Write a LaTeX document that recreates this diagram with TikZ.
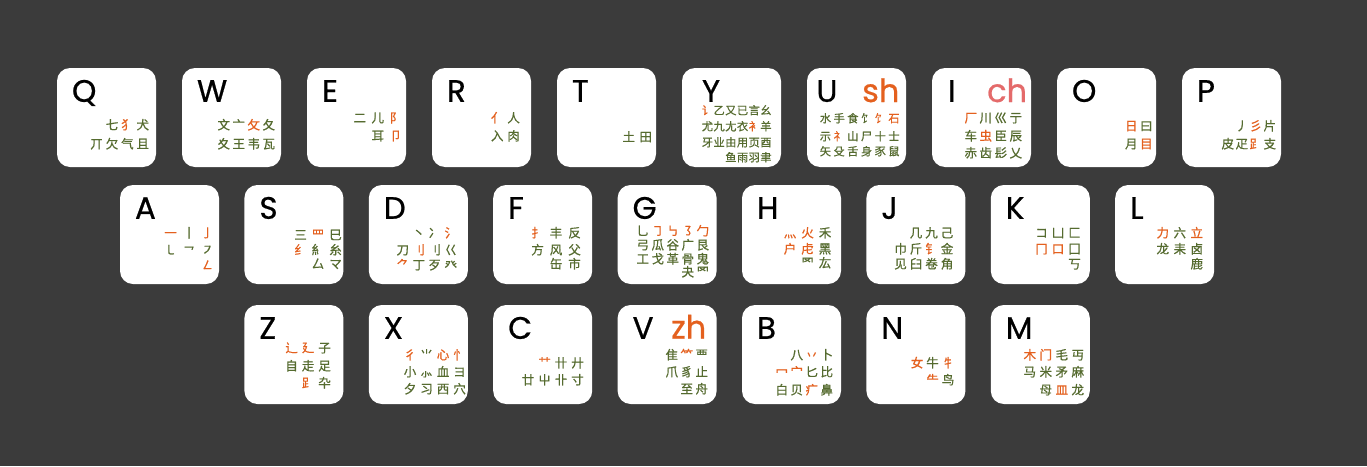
\documentclass[tikz,border=0pt]{standalone}
\usepackage{fontspec}
\usetikzlibrary{calc}
\newfontfamily\cjk[FakeBold=0.6]{Noto Sans CJK SC}
\newfontfamily\pop[FakeBold=0.7]{Poppins}
\definecolor{bg}{HTML}{3B3B3B}
\definecolor{kg}{HTML}{556B2F}
\definecolor{ko}{HTML}{E4601E}
\definecolor{kp}{HTML}{E46A6A}
\newlength\adv
\newcommand\Gc[1]{\makebox[\adv][c]{\color{kg}#1}}
\newcommand\Oc[1]{\makebox[\adv][c]{\color{ko}#1}}
\newcommand\Ec{\hspace*{\adv}}
\tikzset{
  key/.style={fill=white, draw=none, rounded corners=13pt, minimum width=99pt, minimum height=99pt, inner sep=0pt},
  letter/.style={anchor=base west, inner sep=0pt, font=\pop\fontsize{31}{31}\selectfont, text=black},
  pin/.style={anchor=base west, inner sep=0pt, font=\pop\fontsize{32}{32}\selectfont},
  cj/.style={anchor=east, inner sep=0pt, text height=10.5pt, text depth=1.5pt, font=\cjk\fontsize{12.5}{12.5}\selectfont},
  cjs/.style={cj, font=\cjk\fontsize{11.2}{11.2}\selectfont},
}
\begin{document}
\begin{tikzpicture}[x=1pt,y=-1pt]
\fill[bg] (0,0) rectangle (1367,466);
\useasboundingbox (0,0) rectangle (1367,466);
% ---------- keys ----------
\foreach \n/\cx in {Q/106.5,W/231.5,E/356.5,R/481.5,T/606.5,Y/731.5,U/856.5,I/981.5,O/1106.5,P/1231.5}
  \node[key] (k\n) at (\cx,117.5) {};
\foreach \n/\cx in {A/169.5,S/293.9,D/418.3,F/542.7,G/667.1,H/791.5,J/915.9,K/1040.3,L/1164.7}
  \node[key] (k\n) at (\cx,234.5) {};
\foreach \n/\cx in {Z/293.9,X/418.3,C/542.7,V/667.1,B/791.5,N/915.9,M/1040.3}
  \node[key] (k\n) at (\cx,354.5) {};
% letters
\foreach \n in {Q,W,E,R,T,O,P,A,S,D,F,G,H,J,K,L,Z,X,C,V,B,N,M}
  \node[letter] (l\n) at ($(k\n.north west)+(15,34)$) {\n};
\node[letter] (lY) at ($(kY.north west)+(20,34)$) {Y};
\node[letter] (lU) at ($(kU.north west)+(9.5,34)$) {U};
\node[letter] (lI) at ($(kI.north west)+(16,34)$) {I};
\node[pin, text=ko] (pU) at (862,102) {sh};
\node[pin, text=kp] (pI) at (987,102) {ch};
\node[pin, text=ko] (pV) at (671,338.5) {zh};
% Q
\setlength\adv{15.4pt}
\node[cj] (q1) at (150.7,125) {\Ec\Gc{七}\Oc{犭}\Gc{犬}};
\node[cj] (q2) at (150.7,144) {\Gc{丌}\Gc{欠}\Gc{气}\Gc{且}};
% W
\setlength\adv{15pt}
\node[cj] (w1) at (276.5,125) {\Gc{文}\Gc{亠}\Oc{攵}\Gc{夂}};
\node[cj] (w2) at (276.5,144) {\Gc{夊}\Gc{王}\Gc{韦}\Gc{瓦}};
% E
\setlength\adv{18pt}
\node[cj] (e1) at (405,118) {\Gc{二}\Gc{儿}\Oc{阝}};
\node[cj] (e2) at (405,136) {\Gc{耳}\Oc{卩}};
% R
\setlength\adv{16.4pt}
\node[cj] (r1) at (522,118) {\Oc{亻}\Gc{人}};
\node[cj] (r2) at (522,136) {\Gc{入}\Gc{肉}};
% T
\setlength\adv{17pt}
\node[cj] (t1) at (654.5,137) {\Gc{土}\Gc{田}};
% Y
\setlength\adv{11.7pt}
\node[cjs] (y1) at (772,110) {\Oc{讠}\Gc{乙}\Gc{又}\Gc{已}\Gc{言}\Gc{幺}};
\node[cjs] (y2) at (772,126) {\Gc{尤}\Gc{九}\Gc{尢}\Gc{衣}\Oc{衤}\Gc{羊}};
\node[cjs] (y3) at (772,142) {\Gc{牙}\Gc{业}\Gc{由}\Gc{用}\Gc{页}\Gc{酉}};
\node[cjs] (y4) at (772,157) {\Gc{鱼}\Gc{雨}\Gc{羽}\Gc{聿}};
% U
\setlength\adv{13.7pt}
\node[cjs] (u1) at (901,118) {\Gc{水}\Gc{手}\Gc{食}\Gc{饣}\Oc{饣}\Oc{石}};
\node[cjs] (u2) at (901,136) {\Gc{示}\Oc{礻}\Gc{山}\Gc{尸}\Gc{十}\Gc{士}};
\node[cjs] (u3) at (901,151) {\Gc{矢}\Gc{殳}\Gc{舌}\Gc{身}\Gc{豕}\Gc{鼠}};
% I
\setlength\adv{15pt}
\node[cj] (i1) at (1023.5,118) {\Oc{厂}\Gc{川}\Gc{巛}\Gc{亍}};
\node[cj] (i2) at (1023.5,136) {\Gc{车}\Oc{虫}\Gc{臣}\Gc{辰}};
\node[cj] (i3) at (1023.5,153) {\Gc{赤}\Gc{齿}\Gc{髟}\Gc{乂}};
% O
\setlength\adv{15pt}
\node[cj] (o1) at (1154,126) {\Oc{日}\Gc{曰}};
\node[cj] (o2) at (1154,144) {\Gc{月}\Oc{目}};
% P
\setlength\adv{14pt}
\node[cj] (p1) at (1277,126) {\Gc{丿}\Oc{彡}\Gc{片}};
\node[cj] (p2) at (1277,144) {\Gc{皮}\Gc{疋}\Oc{⻊}\Gc{支}};
% ---------- row 2 ----------
% A
\setlength\adv{18.5pt}
\node[cj] (a1) at (217,233) {\Oc{一}\Gc{丨}\Oc{亅}};
\node[cj] (a2) at (217,250) {\Gc{㇄}\Gc{㇖}\Gc{㇇}};
\node[cj] (a3) at (217,265) {\Oc{㇜}};
% S
\setlength\adv{17.5pt}
\node[cj] (s1) at (344.5,235) {\Gc{三}\Oc{罒}\Gc{巳}};
\node[cj] (s2) at (344.5,250) {\Oc{纟}\Gc{糹}\Gc{糸}};
\node[cj] (s3) at (344.5,264) {\Gc{厶}\Gc{マ}};
% D
\setlength\adv{16pt}
\node[cj] (d1) at (459,233) {\Gc{丶}\Gc{冫}\Oc{氵}};
\node[cj] (d2) at (459,250) {\Gc{刀}\Oc{刂}\Gc{刂}\Gc{巜}};
\node[cj] (d3) at (459,265) {\Oc{⺈}\Gc{丁}\Gc{歹}\Gc{癶}};
% F
\setlength\adv{18.5pt}
\node[cj] (f1) at (584,233) {\Oc{扌}\Gc{丰}\Gc{反}};
\node[cj] (f2) at (584,250) {\Gc{方}\Gc{风}\Gc{父}};
\node[cj] (f3) at (584,264) {\Gc{缶}\Gc{市}};
% G
\setlength\adv{15pt}
\node[cj] (g1) at (710.5,231) {\Gc{乚}\Oc{㇆}\Oc{㇉}\Oc{㇌}\Oc{勹}};
\node[cj] (g2) at (710.5,245) {\Gc{弓}\Gc{瓜}\Gc{谷}\Gc{广}\Gc{艮}};
\node[cj] (g3) at (710.5,259) {\Gc{工}\Gc{戈}\Gc{革}\Gc{骨}\Gc{鬼}};
\node[cj] (g4) at (710.5,272) {\Gc{夬}\Gc{罓}};
% H
\setlength\adv{17.5pt}
\node[cj] (h1) at (834,233) {\Oc{灬}\Oc{火}\Gc{禾}};
\node[cj] (h2) at (834,249) {\Oc{户}\Oc{虍}\Gc{黑}};
\node[cj] (h3) at (834,263) {\Gc{罓}\Gc{厷}};
% J
\setlength\adv{15.5pt}
\node[cj] (j1) at (955,233) {\Gc{几}\Gc{九}\Gc{己}};
\node[cj] (j2) at (955,249) {\Gc{巾}\Gc{斤}\Oc{钅}\Gc{金}};
\node[cj] (j3) at (955,264) {\Gc{见}\Gc{臼}\Gc{卷}\Gc{角}};
% K
\setlength\adv{16.5pt}
\node[cj] (kk1) at (1083,233) {\Gc{コ}\Gc{凵}\Gc{匚}};
\node[cj] (kk2) at (1083,249) {\Oc{冂}\Oc{口}\Gc{囗}};
\node[cj] (kk3) at (1083,264) {\Gc{丂}};
% L
\setlength\adv{17pt}
\node[cj] (ll1) at (1205.5,233) {\Oc{力}\Gc{六}\Oc{立}};
\node[cj] (ll2) at (1205.5,249) {\Gc{龙}\Gc{耒}\Gc{卤}};
\node[cj] (ll3) at (1205.5,264) {\Gc{鹿}};
% ---------- row 3 ----------
% Z
\setlength\adv{16.5pt}
\node[cj] (z1) at (333,348) {\Oc{辶}\Oc{廴}\Gc{子}};
\node[cj] (z2) at (333,366) {\Gc{自}\Gc{走}\Gc{足}};
\node[cj] (z3) at (333,383) {\Oc{⻊}\Gc{卆}};
% X
\setlength\adv{16.5pt}
\node[cj] (x1) at (468,355) {\Oc{彳}\Gc{⺌}\Oc{心}\Oc{忄}};
\node[cj] (x2) at (468,372) {\Gc{小}\Gc{⺗}\Gc{血}\Gc{ヨ}};
\node[cj] (x3) at (468,389) {\Gc{夕}\Gc{习}\Gc{西}\Gc{穴}};
% C
\setlength\adv{16.5pt}
\node[cj] (c1) at (586,363) {\Oc{⺿}\Gc{卄}\Gc{廾}};
\node[cj] (c2) at (586,380) {\Gc{廿}\Gc{屮}\Gc{卝}\Gc{寸}};
% V
\setlength\adv{15pt}
\node[cj] (v1) at (709.5,355) {\Gc{隹}\Oc{⺮}\Gc{覀}};
\node[cj] (v2) at (709.5,372) {\Gc{爪}\Gc{豸}\Gc{止}};
\node[cj] (v3) at (709.5,389) {\Gc{至}\Gc{舟}};
% B
\setlength\adv{15pt}
\node[cj] (b1) at (834.5,355) {\Gc{八}\Oc{丷}\Gc{卜}};
\node[cj] (b2) at (834.5,372) {\Oc{冖}\Oc{宀}\Gc{匕}\Gc{比}};
\node[cj] (b3) at (834.5,390) {\Gc{白}\Gc{贝}\Oc{疒}\Gc{鼻}};
% N
\setlength\adv{15.5pt}
\node[cj] (n1) at (956,363) {\Oc{女}\Gc{牛}\Oc{牜}};
\node[cj] (n2) at (956,380) {\Oc{⺧}\Gc{鸟}};
% M
\setlength\adv{16pt}
\node[cj] (m1) at (1086,355) {\Oc{木}\Oc{门}\Gc{毛}\Gc{丏}};
\node[cj] (m2) at (1086,372) {\Gc{马}\Gc{米}\Gc{矛}\Gc{麻}};
\node[cj] (m3) at (1086,390) {\Gc{母}\Oc{皿}\Gc{龙}};
\end{tikzpicture}
\end{document}
